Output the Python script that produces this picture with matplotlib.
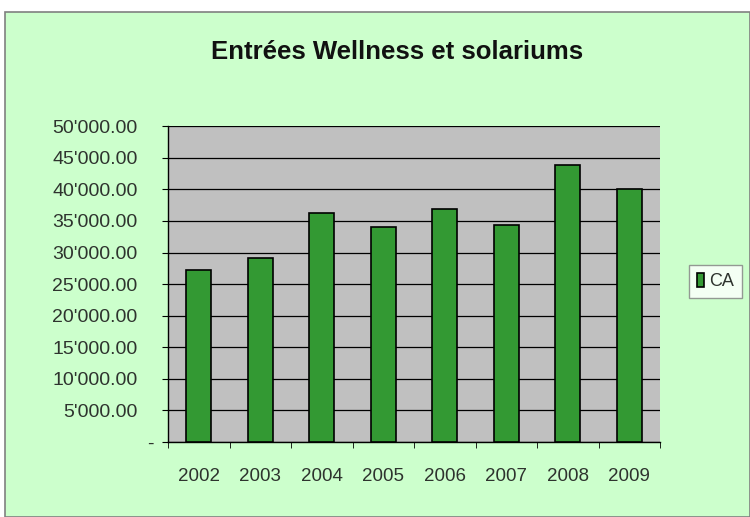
import matplotlib.pyplot as plt
from matplotlib.patches import Rectangle
from matplotlib.ticker import FuncFormatter
from matplotlib.transforms import ScaledTranslation

plt.rcParams['font.family'] = ['Liberation Sans', 'DejaVu Sans']

# valeurs
annees = ["2002", "2003", "2004", "2005", "2006", "2007", "2008", "2009"]
ca = [27200, 29200, 36300, 34100, 36900, 34300, 43900, 40000]

gris_texte = "#2e332e"

fig = plt.figure(figsize=(7.5, 5.17), dpi=100, facecolor="white")

# fond vert du graphique avec cadre gris
fig.patches.append(Rectangle((0.007, 0.0), 0.993, 0.977, transform=fig.transFigure,
                             facecolor="#ccffcc", edgecolor="#808080", linewidth=1.2, zorder=-5))

ax = fig.add_axes([0.224, 0.145, 0.656, 0.611])
ax.set_facecolor("#c0c0c0")

x = range(len(annees))
ax.bar(x, ca, width=0.4, color="#339933", edgecolor="black", linewidth=1.2, label="CA", zorder=3)

ax.set_xlim(-0.5, len(annees) - 0.5)
ax.set_ylim(0, 50000)
ax.set_yticks(range(0, 50001, 5000))
ax.grid(axis="y", color="black", linewidth=0.9, zorder=1)


def fmt(v, pos):
    if v == 0:
        return "-"
    return "{:,.2f}".format(v).replace(",", "'")


ax.yaxis.set_major_formatter(FuncFormatter(fmt))
ax.set_xticks(list(x))
ax.set_xticklabels(annees)
ax.set_xticks([i + 0.5 for i in range(-1, len(annees))], minor=True)
ax.tick_params(axis="x", which="major", length=0, pad=18.5, labelsize=13.5, colors=gris_texte)
ax.tick_params(axis="x", which="minor", length=4, direction="out")
ax.tick_params(axis="y", length=4, direction="out", labelsize=14, labelcolor=gris_texte, pad=18)

# le tiret du zéro est décalé vers la droite comme dans Excel
zero = ax.yaxis.get_major_ticks()[0].label1
zero.set_transform(zero.get_transform() + ScaledTranslation(12 / 72, 0, fig.dpi_scale_trans))

for s in ["top", "right"]:
    ax.spines[s].set_visible(False)
ax.spines["left"].set_linewidth(1.0)
ax.spines["bottom"].set_linewidth(1.0)

fig.text(0.53, 0.9, "Entrées Wellness et solariums", ha="center", va="center",
         fontsize=18.5, fontweight="bold", color="#111111")

leg = fig.legend(loc="center", bbox_to_anchor=(0.954, 0.455), frameon=True, fancybox=False,
                 handlelength=0.35, handleheight=0.8, handletextpad=0.3, fontsize=13,
                 borderpad=0.45, labelcolor=gris_texte)
leg.get_frame().set_edgecolor("#808080")
leg.get_frame().set_facecolor("white")

fig.savefig("out.png", dpi=100, facecolor=fig.get_facecolor())
